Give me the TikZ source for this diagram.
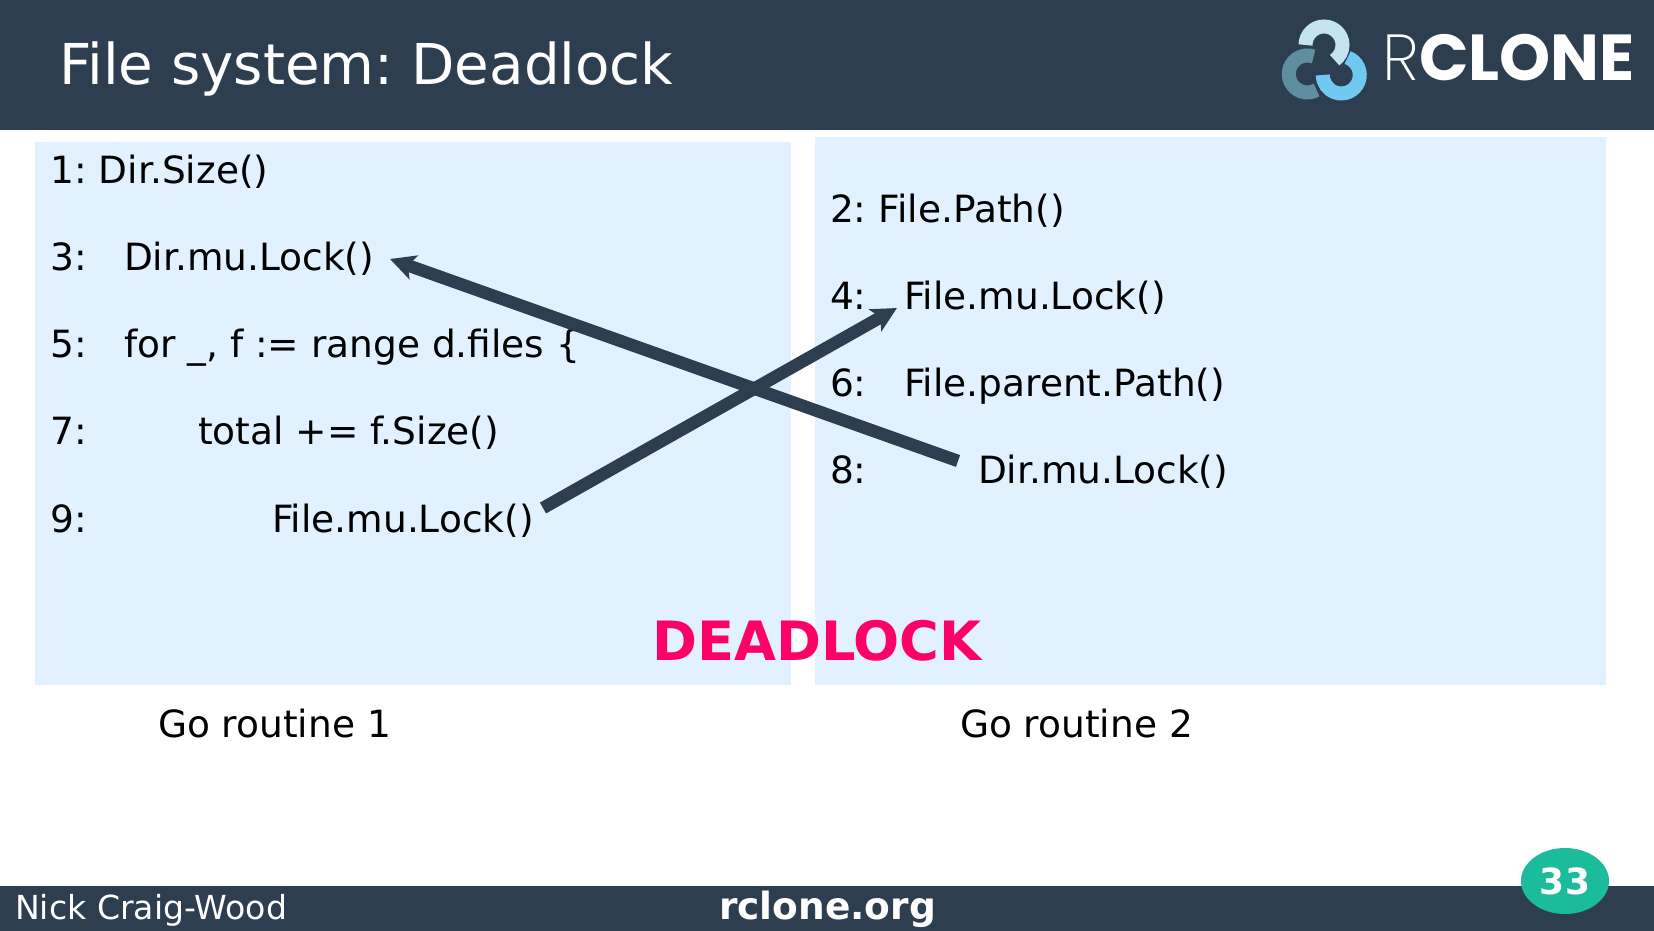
\documentclass[tikz,border=0pt]{standalone}
\usepackage{fontspec}
\setmainfont{DejaVu Sans}
\newfontface\logolight{Poppins ExtraLight}
\newfontface\logobold{Poppins Bold}
\usetikzlibrary{arrows.meta,shapes.geometric}
\definecolor{navy}{HTML}{2C3E50}
\definecolor{panel}{HTML}{E1F1FF}
\definecolor{alarm}{HTML}{FF0066}
\definecolor{badge}{HTML}{1ABC9C}
\definecolor{ringa}{HTML}{C4E2F2}
\definecolor{ringb}{HTML}{5F8F9E}
\definecolor{ringc}{HTML}{70C9F0}
\tikzset{
  code/.style={anchor=base west,inner sep=0pt,outer sep=0pt,font=\fontsize{37.5pt}{37.5pt}\selectfont},
  foot/.style={anchor=base west,inner sep=0pt,text=white},
  ring/.style={line width=14pt,line cap=butt},
  xarrow/.style={navy,line width=12.5pt,-{Stealth[length=25pt,width=25pt,inset=6pt]}}
}
\begin{document}
\frenchspacing
\begin{tikzpicture}[x=1pt,y=-1pt]
\useasboundingbox (0,0) rectangle (1654,931);
\fill[white] (0,0) rectangle (1654,931);
\fill[navy] (0,0) rectangle (1654,130);
\fill[navy] (0,886) rectangle (1654,930.5);
\fill[panel] (35,142) rectangle (791,685);
\fill[panel] (815,137) rectangle (1606,685);
\node[foot,font=\fontsize{56.3pt}{56.3pt}\selectfont] (title) at (59,85) {File system: Deadlock};
% logo
\draw[ring,ringb] (1313.6,56.6) arc[start angle=-70,end angle=-300,radius=18.5];
\draw[ring,ringc] (1347.6,57.6) arc[start angle=-70,end angle=180,radius=18.5];
\draw[ring,ringa] (1305.5,45) arc[start angle=-180,end angle=55,radius=18.5];
\node[anchor=base west,inner sep=0pt,text=white,font=\fontsize{65pt}{65pt}\selectfont] (logo) at (1382.5,81) {{\logolight R}{\logobold CLONE}};
% left
\node[code] (l1) at (50.5,183) {1: Dir.Size()};
\node[code] (l3) at (50.5,270) {3:};
\node[code] (l3b) at (124,270) {Dir.mu.Lock()};
\node[code] (l5) at (50.5,357) {5:};
\node[code] (l5b) at (124,357) {for \_, f := range d.files \{};
\node[code] (l7) at (50.5,444) {7:};
\node[code] (l7b) at (198,444) {total += f.Size()};
\node[code] (l9) at (50.5,532) {9:};
\node[code] (l9b) at (272,532) {File.mu.Lock()};
% right
\node[code] (r2) at (830,222) {2: File.Path()};
\node[code] (r4) at (830,309) {4:};
\node[code] (r4b) at (904,309) {File.mu.Lock()};
\node[code] (r6) at (830,396) {6:};
\node[code] (r6b) at (904,396) {File.parent.Path()};
\node[code] (r8) at (830,483) {8:};
\node[code] (r8b) at (978,483) {Dir.mu.Lock()};
\node[code] (g1) at (158,737) {Go routine 1};
\node[code] (g2) at (960,737) {Go routine 2};
\node[anchor=base west,inner sep=0pt,text=alarm,font=\fontsize{54.2pt}{54.2pt}\selectfont\bfseries] (dead) at (652,660) {DEADLOCK};
% arrows
\coordinate (a1s) at (958,461);
\coordinate (a1e) at (390,259);
\coordinate (a2s) at (543,508);
\coordinate (a2e) at (897,308);
\draw[xarrow] (a1s) -- (a1e);
\draw[xarrow] (a2s) -- (a2e);
% footer
\node[foot,font=\fontsize{33.1pt}{33.1pt}\selectfont] (author) at (15,919) {Nick Craig-Wood};
\node[foot,font=\fontsize{37.5pt}{37.5pt}\selectfont\bfseries] (site) at (719,919) {rclone.org};
\node[fill=badge,ellipse,minimum width=88pt,minimum height=66pt,inner sep=0pt,text=white,font=\fontsize{36pt}{36pt}\selectfont\bfseries] (page) at (1565,881) {33};
\end{tikzpicture}
\end{document}
